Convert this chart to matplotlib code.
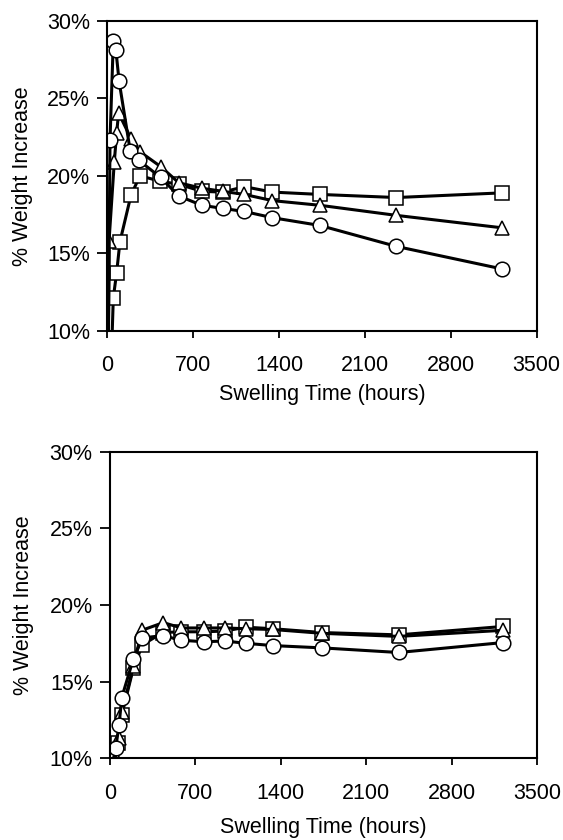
import matplotlib
matplotlib.use("Agg")
import matplotlib.pyplot as plt
from matplotlib.ticker import FuncFormatter

plt.rcParams['font.family'] = ['Liberation Sans', 'DejaVu Sans']

# ---- top panel data ----
top_circle_hours = [0, 22, 49, 70, 96, 187, 256, 434, 582, 770, 941, 1117, 1346, 1733, 2356, 3216]
top_circle_pct = [0, 22.3, 28.7, 28.1, 26.1, 21.6, 21.0, 19.9, 18.7, 18.1, 17.9, 17.7, 17.3, 16.8, 15.45, 14.0]
top_tri_hours = [0, 14, 57, 76, 92, 193, 266, 434, 583, 770, 941, 1117, 1346, 1733, 2356, 3216]
top_tri_pct = [0, 15.8, 20.9, 22.75, 24.05, 22.4, 21.55, 20.6, 19.55, 19.2, 19.0, 18.8, 18.4, 18.1, 17.45, 16.65]
top_sq_hours = [0, 49, 76, 103, 193, 266, 432, 585, 770, 941, 1117, 1346, 1733, 2356, 3216]
top_sq_pct = [0, 12.15, 13.75, 15.75, 18.75, 20.0, 19.65, 19.45, 19.0, 18.95, 19.3, 18.95, 18.8, 18.6, 18.9]

# ---- bottom panel data ----
bot_circle_hours = [0, 47, 74, 96, 192, 266, 431, 585, 769, 942, 1112, 1335, 1740, 2365, 3225]
bot_circle_pct = [0, 10.7, 12.15, 13.95, 16.5, 17.85, 18.0, 17.7, 17.6, 17.65, 17.5, 17.35, 17.2, 16.9, 17.55]
bot_tri_hours = [0, 47, 70, 96, 192, 262, 437, 585, 769, 942, 1112, 1335, 1740, 2365, 3225]
bot_tri_pct = [0, 10.0, 11.3, 13.0, 16.0, 18.35, 18.85, 18.5, 18.5, 18.5, 18.45, 18.4, 18.15, 17.95, 18.35]
bot_sq_hours = [0, 68, 96, 192, 266, 431, 585, 769, 942, 1112, 1335, 1740, 2365, 3225]
bot_sq_pct = [0, 11.0, 12.8, 15.9, 17.4, 18.2, 18.25, 18.25, 18.3, 18.55, 18.45, 18.2, 18.05, 18.6]

x_ticks = [0, 700, 1400, 2100, 2800, 3500]
y_ticks = [10, 15, 20, 25, 30]
x_label = "Swelling Time (hours)"
y_label = "% Weight Increase"

fig = plt.figure(figsize=(5.63, 8.4), dpi=100)
ax1 = fig.add_axes([0.1906, 0.6060, 0.7627, 0.3694])
ax2 = fig.add_axes([0.1954, 0.0973, 0.7584, 0.3650])

FS = 15.5

def draw(ax, series, xpad, xlabelpad, ylabelpad):
    for hrs, vals, mk, ms in series:
        ax.plot(hrs, vals, color='black', lw=2.2, marker=mk, ms=ms,
                mfc='white', mec='black', mew=1.1, clip_on=True)
    ax.set_xlim(0, 3500)
    ax.set_ylim(10, 30)
    ax.set_xticks(x_ticks)
    ax.set_yticks(y_ticks)
    ax.yaxis.set_major_formatter(FuncFormatter(lambda v, p: f"{v:.0f}%"))
    ax.tick_params(axis='x', direction='out', length=5, width=1.3, labelsize=FS, pad=xpad)
    ax.tick_params(axis='y', direction='out', length=7, width=1.3, labelsize=FS, pad=5.5)
    for s in ax.spines.values():
        s.set_linewidth(1.5)
    ax.set_xlabel(x_label, fontsize=FS, labelpad=xlabelpad)
    ax.set_ylabel(y_label, fontsize=FS, labelpad=ylabelpad)

draw(ax1, [(top_sq_hours, top_sq_pct, 's', 9.5),
           (top_tri_hours, top_tri_pct, '^', 10.5),
           (top_circle_hours, top_circle_pct, 'o', 10.5)],
     xpad=12, xlabelpad=6, ylabelpad=10)
draw(ax2, [(bot_sq_hours, bot_sq_pct, 's', 9.5),
           (bot_tri_hours, bot_tri_pct, '^', 10.5),
           (bot_circle_hours, bot_circle_pct, 'o', 10.5)],
     xpad=13, xlabelpad=9.5, ylabelpad=11)

fig.savefig("out.png", dpi=100, facecolor='white')
